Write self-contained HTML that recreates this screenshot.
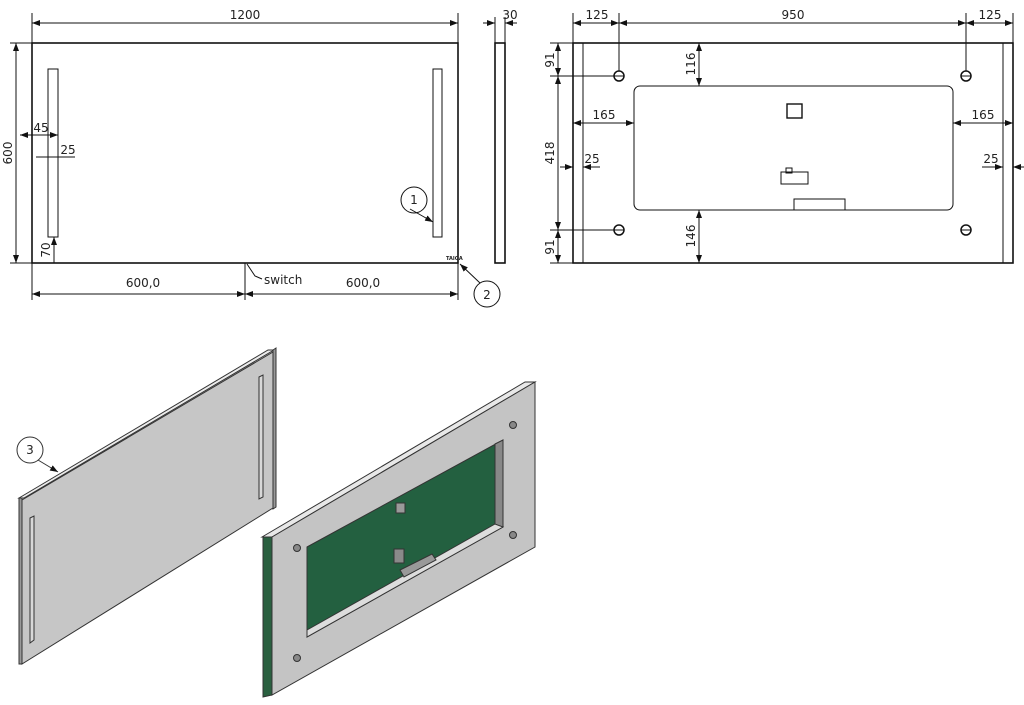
<!DOCTYPE html>
<html><head><meta charset="utf-8"><style>
html,body{margin:0;padding:0;background:#fff}
svg{display:block}
text{font-family:"DejaVu Sans","Liberation Sans",sans-serif;font-size:12px;fill:#222}
</style></head><body>
<svg width="1024" height="705" viewBox="0 0 1024 705" xmlns="http://www.w3.org/2000/svg">
<defs>
<marker id="a" markerWidth="8" markerHeight="6" refX="8" refY="3" orient="auto-start-reverse" markerUnits="userSpaceOnUse"><path d="M0,0 L8,3 L0,6z" fill="#111"/></marker>
</defs>
<g stroke="#111" fill="none" stroke-width="1">
<rect x="32" y="43" width="426" height="220" stroke-width="1.6"/>
<rect x="48" y="69" width="10" height="168"/>
<rect x="433" y="69" width="9" height="168"/>
<line x1="32" y1="13" x2="32" y2="43"/><line x1="458" y1="13" x2="458" y2="43"/>
<line x1="32" y1="23" x2="458" y2="23" marker-start="url(#a)" marker-end="url(#a)"/>
<line x1="10" y1="43" x2="32" y2="43"/><line x1="10" y1="263" x2="32" y2="263"/>
<line x1="16" y1="43" x2="16" y2="263" marker-start="url(#a)" marker-end="url(#a)"/>
<line x1="20" y1="135" x2="58" y2="135" marker-start="url(#a)" marker-end="url(#a)"/>
<line x1="36" y1="157" x2="75" y2="157"/>
<line x1="54" y1="237" x2="54" y2="263" marker-start="url(#a)"/>
<line x1="32" y1="263" x2="32" y2="300"/><line x1="458" y1="263" x2="458" y2="300"/><line x1="245" y1="263" x2="245" y2="300"/>
<line x1="32" y1="294" x2="245" y2="294" marker-start="url(#a)" marker-end="url(#a)"/>
<line x1="245" y1="294" x2="458" y2="294" marker-start="url(#a)" marker-end="url(#a)"/>
<path d="M247,264 L255,276 L262,279"/>
<circle cx="414" cy="200" r="13"/><line x1="410" y1="209" x2="433" y2="222" marker-end="url(#a)"/>
<circle cx="487" cy="294" r="13"/><line x1="480" y1="283" x2="460" y2="264" marker-end="url(#a)"/>
<rect x="495" y="43" width="10" height="220" stroke-width="1.6"/>
<line x1="495" y1="17" x2="495" y2="43"/><line x1="505" y1="17" x2="505" y2="43"/>
<line x1="483" y1="23" x2="495" y2="23" marker-end="url(#a)"/><line x1="517" y1="23" x2="505" y2="23" marker-end="url(#a)"/>
<rect x="573" y="43" width="440" height="220" stroke-width="1.6"/>
<line x1="583" y1="43" x2="583" y2="263"/><line x1="1003" y1="43" x2="1003" y2="263"/>
<rect x="634" y="86" width="319" height="124" rx="6"/>
<rect x="787" y="104" width="15" height="14" stroke-width="1.4"/>
<path d="M794,210 L794,199 L845,199 L845,210"/>
<rect x="781" y="172" width="27" height="12"/><rect x="786" y="168" width="6" height="5"/>
<g stroke-width="1.5"><circle cx="619" cy="76" r="5"/><circle cx="966" cy="76" r="5"/><circle cx="619" cy="230" r="5"/><circle cx="966" cy="230" r="5"/></g>
<line x1="614" y1="76" x2="624" y2="76"/><line x1="961" y1="76" x2="971" y2="76"/><line x1="614" y1="230" x2="624" y2="230"/><line x1="961" y1="230" x2="971" y2="230"/>
<line x1="573" y1="13" x2="573" y2="43"/><line x1="619" y1="13" x2="619" y2="71"/><line x1="966" y1="13" x2="966" y2="71"/><line x1="1013" y1="13" x2="1013" y2="43"/>
<line x1="573" y1="23" x2="619" y2="23" marker-start="url(#a)" marker-end="url(#a)"/>
<line x1="619" y1="23" x2="966" y2="23" marker-start="url(#a)" marker-end="url(#a)"/>
<line x1="966" y1="23" x2="1013" y2="23" marker-start="url(#a)" marker-end="url(#a)"/>
<line x1="550" y1="43" x2="573" y2="43"/><line x1="550" y1="76" x2="614" y2="76"/><line x1="550" y1="230" x2="614" y2="230"/><line x1="550" y1="263" x2="573" y2="263"/>
<line x1="558" y1="43" x2="558" y2="76" marker-start="url(#a)" marker-end="url(#a)"/>
<line x1="558" y1="76" x2="558" y2="230" marker-start="url(#a)" marker-end="url(#a)"/>
<line x1="558" y1="230" x2="558" y2="263" marker-start="url(#a)" marker-end="url(#a)"/>
<line x1="699" y1="43" x2="699" y2="86" marker-start="url(#a)" marker-end="url(#a)"/>
<line x1="699" y1="210" x2="699" y2="263" marker-start="url(#a)" marker-end="url(#a)"/>
<line x1="573" y1="123" x2="634" y2="123" marker-start="url(#a)" marker-end="url(#a)"/>
<line x1="953" y1="123" x2="1013" y2="123" marker-start="url(#a)" marker-end="url(#a)"/>
<line x1="560" y1="167" x2="573" y2="167" marker-end="url(#a)"/><line x1="600" y1="167" x2="583" y2="167" marker-end="url(#a)"/>
<line x1="982" y1="167" x2="1003" y2="167" marker-end="url(#a)"/><line x1="1024" y1="167" x2="1013" y2="167" marker-end="url(#a)"/>
</g>
<g>
<text x="245" y="19" text-anchor="middle">1200</text>
<text x="510" y="19" text-anchor="middle">30</text>
<text transform="translate(12,153) rotate(-90)" text-anchor="middle">600</text>
<text x="41" y="132" text-anchor="middle">45</text>
<text x="68" y="154" text-anchor="middle">25</text>
<text transform="translate(50,250) rotate(-90)" text-anchor="middle">70</text>
<text x="143" y="287" text-anchor="middle">600,0</text>
<text x="363" y="287" text-anchor="middle">600,0</text>
<text x="264" y="284">switch</text>
<text x="414" y="204" text-anchor="middle">1</text>
<text x="487" y="299" text-anchor="middle">2</text>
<text x="446" y="260" style="font-size:5px;font-weight:bold">TAIGA</text>
<text x="597" y="19" text-anchor="middle">125</text>
<text x="793" y="19" text-anchor="middle">950</text>
<text x="990" y="19" text-anchor="middle">125</text>
<text transform="translate(554,60) rotate(-90)" text-anchor="middle">91</text>
<text transform="translate(554,153) rotate(-90)" text-anchor="middle">418</text>
<text transform="translate(554,247) rotate(-90)" text-anchor="middle">91</text>
<text transform="translate(695,64) rotate(-90)" text-anchor="middle">116</text>
<text transform="translate(695,236) rotate(-90)" text-anchor="middle">146</text>
<text x="604" y="119" text-anchor="middle">165</text>
<text x="983" y="119" text-anchor="middle">165</text>
<text x="592" y="163" text-anchor="middle">25</text>
<text x="991" y="163" text-anchor="middle">25</text>
</g>
<!-- isometric front panel -->
<polygon points="19,498 268,350 274,350 24,498" fill="#ececec" stroke="#333"/>
<polygon points="19,498 22,498 22,664 19,664" fill="#999" stroke="#333"/>
<polygon points="22,500 273,352 273,508 22,664" fill="#c6c6c6" stroke="#333"/>
<polygon points="273,350 276,348 276,507 273,509" fill="#999" stroke="#333"/>
<polygon points="30,518 34,516 34,640 30,643" fill="#d8d8d8" stroke="#333"/>
<polygon points="259,377 263,375 263,497 259,499" fill="#d8d8d8" stroke="#333"/>
<circle cx="30" cy="450" r="13" fill="#fff" stroke="#333"/><text x="30" y="454" text-anchor="middle">3</text>
<line x1="38" y1="460" x2="58" y2="472" stroke="#333" marker-end="url(#a)"/>
<!-- isometric back panel -->
<polygon points="263,537 272,535 272,695 263,697" fill="#2a6040" stroke="#333"/>
<polygon points="262,537 525,382 535,382 272,537" fill="#e8e8e8" stroke="#333"/>
<polygon points="272,537 535,382 535,547 272,695" fill="#c4c4c4" stroke="#333"/>
<polygon points="307,547 503,440 503,527 307,637" fill="#236040" stroke="#333"/>
<polygon points="495,444 503,440 503,527 495,531" fill="#888" stroke="#333"/>
<polygon points="307,630 495,524 503,527 307,637" fill="#ddd" stroke="#333"/>
<rect x="396" y="503" width="9" height="10" fill="#9a9a9a" stroke="#333"/>
<polygon points="400,570 432,554 436,560 404,577" fill="#999" stroke="#333"/>
<rect x="394" y="549" width="10" height="14" fill="#8a8a8a" stroke="#333"/>
<g fill="#888" stroke="#333"><circle cx="297" cy="548" r="3.5"/><circle cx="513" cy="425" r="3.5"/><circle cx="513" cy="535" r="3.5"/><circle cx="297" cy="658" r="3.5"/></g>
</svg>
</body></html>
